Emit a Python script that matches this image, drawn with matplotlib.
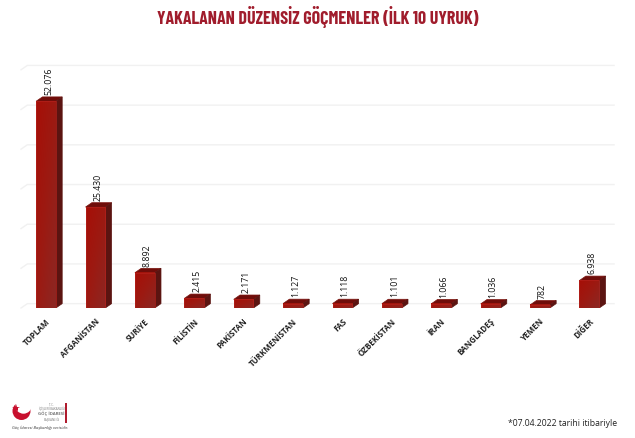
import numpy as np
import matplotlib
matplotlib.use('Agg')
import matplotlib.pyplot as plt
from matplotlib.patches import Polygon, Circle, Rectangle
from matplotlib.colors import LinearSegmentedColormap

categories = ['TOPLAM', 'AFGANİSTAN', 'SURİYE', 'FİLİSTİN', 'PAKİSTAN', 'TÜRKMENİSTAN',
              'FAS', 'ÖZBEKİSTAN', 'İRAN', 'BANGLADEŞ', 'YEMEN', 'DİĞER']
values = [52076, 25430, 8892, 2415, 2171, 1127, 1118, 1101, 1066, 1036, 782, 6938]
grid_values = [0, 10000, 20000, 30000, 40000, 50000, 60000]

W, H = 635, 438
width = 0.4
dx, dy = 0.128, 1100
red = LinearSegmentedColormap.from_list('barred', ['#a60f07', '#9c1a12', '#8c2723'])

plt.rcParams['font.family'] = ['Open Sans', 'DejaVu Sans']

fig = plt.figure(figsize=(W / 100, H / 100), dpi=100)
ax = fig.add_axes([21 / W, 1 - 308 / H, 599 / W, 248 / H])
ax.set_axis_off()

# back wall lines
for g in grid_values:
    ax.plot([-0.506, -0.506 + dx, 11.5], [g, g + dy, g + dy], color='#f1f1f1', lw=1, zorder=1, clip_on=False)

# diagonal shading of the bar fronts
gx, gy = np.meshgrid(np.linspace(0, 1, 16), np.linspace(0, 1, 32))
grad = 0.5 * gx + 0.5 * gy

x = np.arange(len(categories))
for i, v in zip(x, values):
    l = i - width / 2
    r = i + width / 2
    ax.add_patch(Polygon([(l, v), (l + dx, v + dy), (r + dx, v + dy), (r, v)], fc='#6f0d0a', ec='#7c1510', lw=0.5, zorder=3))
    ax.add_patch(Polygon([(r, 0), (r + dx, dy), (r + dx, v + dy), (r, v)], fc='#5b1411', ec='#5b1411', lw=0.5, zorder=3))
    ax.imshow(grad, extent=(l, r, 0, v), aspect='auto', cmap=red, zorder=4, origin='upper')
    ax.add_patch(Rectangle((l, 0), width, v, fc='none', ec='#b4211c', lw=0.5, zorder=5))
    ax.text(i + 0.05, v + dy + 450, f'{v:,}'.replace(',', '.'), rotation=90, ha='center', va='bottom',
            fontsize=6.3, color='#111111', zorder=6)
    ax.text(i - 0.01, -2300, categories[i], rotation=45, ha='right', va='top', rotation_mode='anchor',
            fontsize=5.8, fontweight='bold', color='#222222')

ax.set_xlim(-0.506, 11.62)
ax.set_ylim(0, 62469)

fig.text(317.5 / W, 1 - 17 / H, 'YAKALANAN DÜZENSİZ GÖÇMENLER (İLK 10 UYRUK)', ha='center', va='center',
         fontsize=12.95, fontweight='bold', color='#a01c2c',
         family=['Barlow Condensed', 'Liberation Sans Narrow', 'Open Sans', 'DejaVu Sans'])
fig.text(617 / W, 1 - 423 / H, '*07.04.2022 tarihi itibariyle', ha='right', va='center', fontsize=6.2, color='#222222')

# logo
lg = fig.add_axes([0, 0, 1, 1], facecolor='none')
lg.set_xlim(0, W)
lg.set_ylim(H, 0)
lg.set_axis_off()
lg.add_patch(Circle((21.5, 411), 9, fc='#c8102e', ec='none'))
lg.add_patch(Circle((23.5, 405.5), 8.2, fc='white', ec='none'))
lg.plot([16], [408], marker='*', ms=6, color='#c8102e', mew=0)
lg.add_patch(Rectangle((65, 403), 1.5, 20, fc='#b01c2e', ec='none'))
lg.text(51.5, 404.5, 'T.C.', fontsize=2, ha='center', va='center', color='#777777')
lg.text(51.5, 408.5, 'İÇİŞLERİ BAKANLIĞI', fontsize=2.1, ha='center', va='center', color='#777777')
lg.text(51.5, 414, 'GÖÇ İDARESİ', fontsize=3.1, fontweight='bold', ha='center', va='center', color='#777777')
lg.text(51.5, 419.5, 'BAŞKANLIĞI', fontsize=2.1, ha='center', va='center', color='#777777')
lg.text(12, 428, 'Göç İdaresi Başkanlığı verisidir.', fontsize=3, style='italic', ha='left', va='center', color='#333333')

fig.savefig('out.png', dpi=100)
